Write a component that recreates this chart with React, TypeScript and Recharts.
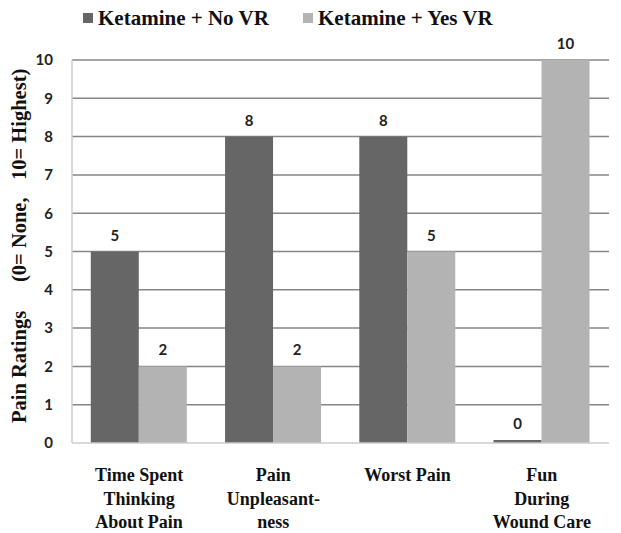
import React from "react";
import { BarChart, Bar, XAxis, YAxis, CartesianGrid, LabelList } from "recharts";

const categoryLines: string[][] = [
  ["Time Spent", "Thinking", "About Pain"],
  ["Pain", "Unpleasant-", "ness"],
  ["Worst Pain"],
  ["Fun", "During", "Wound Care"],
];
const noVRValues = [5, 8, 8, 0];
const yesVRValues = [2, 2, 5, 10];
const seriesNames = ["Ketamine + No VR", "Ketamine + Yes VR"];
const yTicks = [0, 1, 2, 3, 4, 5, 6, 7, 8, 9, 10];
const gridValues = [1, 2, 3, 4, 5, 6, 7, 8, 9, 10];
const yLabelParts = ["Pain Ratings", "(0= None,", "10= Highest)"];

const DARK = "#666666";
const LIGHT = "#b3b3b3";
const SERIF = "Liberation Serif";
const SANS = "Lato";

const data = categoryLines.map((lines, i) => ({
  name: lines.join(" "),
  noVR: noVRValues[i],
  yesVR: yesVRValues[i],
}));

const XTick = (props: any) => {
  const { x, y, payload, index } = props;
  const lines = categoryLines[payload?.index ?? index] || [String(payload.value)];
  return (
    <g>
      {lines.map((l: string, i: number) => (
        <text
          key={i}
          x={x}
          y={y + 38 + i * 23.5}
          textAnchor="middle"
          style={{ fontFamily: SERIF, fontWeight: 700, fontSize: 18 }}
          fill="#111"
        >
          {l}
        </text>
      ))}
    </g>
  );
};

const labelStarts = [423, 282, 180];

const YLabel = () => {
  return (
    <g>
      {yLabelParts.map((t, i) => (
        <text
          key={i}
          x={26}
          y={labelStarts[i]}
          transform={`rotate(-90 26 ${labelStarts[i]})`}
          textAnchor="start"
          style={{ fontFamily: SERIF, fontWeight: 700, fontSize: 20.5 }}
          fill="#111"
        >
          {t}
        </text>
      ))}
    </g>
  );
};

const labelStyle = { fontFamily: SANS, fontWeight: 700, fontSize: 15, fill: "#222" };

const legendX = [83, 303];

export default function App() {
  return (
    <div style={{ position: "absolute", left: 0, top: 0, width: 621, height: 533, background: "#fff" }}>
      <svg width={621} height={40} style={{ position: "absolute", left: 0, top: 0, zIndex: 2 }}>
        {[DARK, LIGHT].map((c, i) => (
          <g key={i}>
            <rect x={legendX[i]} y={13} width={10} height={10} fill={c} />
            <text
              x={legendX[i] + 15}
              y={25}
              style={{ fontFamily: SERIF, fontWeight: 700, fontSize: 21 }}
              fill="#111"
            >
              {seriesNames[i]}
            </text>
          </g>
        ))}
      </svg>
      <BarChart
        width={621}
        height={533}
        data={data}
        margin={{ top: 60, right: 12, left: 0, bottom: 0 }}
        barCategoryGap="14%"
        barGap={0}
      >
        <CartesianGrid
          vertical={false}
          horizontalValues={gridValues}
          stroke="#868686"
          strokeWidth={1.5}
        />
        <XAxis
          dataKey="name"
          height={90}
          tick={<XTick />}
          tickLine={false}
          tickSize={0}
          tickMargin={0}
          axisLine={{ stroke: "#cccccc", strokeWidth: 1.5 }}
          interval={0}
        />
        <YAxis
          width={72}
          domain={[0, 10]}
          ticks={yTicks}
          interval={0}
          tickLine={false}
          tickSize={0}
          tickMargin={19}
          axisLine={{ stroke: "#cccccc", strokeWidth: 1.5 }}
          tick={{ fontFamily: SANS, fontWeight: 700, fontSize: 15, fill: "#222" }}
          label={<YLabel />}
        />
        <Bar dataKey="noVR" name={seriesNames[0]} fill={DARK} minPointSize={3} isAnimationActive={false}>
          <LabelList dataKey="noVR" position="top" offset={11} style={labelStyle} />
        </Bar>
        <Bar dataKey="yesVR" name={seriesNames[1]} fill={LIGHT} isAnimationActive={false}>
          <LabelList dataKey="yesVR" position="top" offset={11} style={labelStyle} />
        </Bar>
      </BarChart>
    </div>
  );
}
